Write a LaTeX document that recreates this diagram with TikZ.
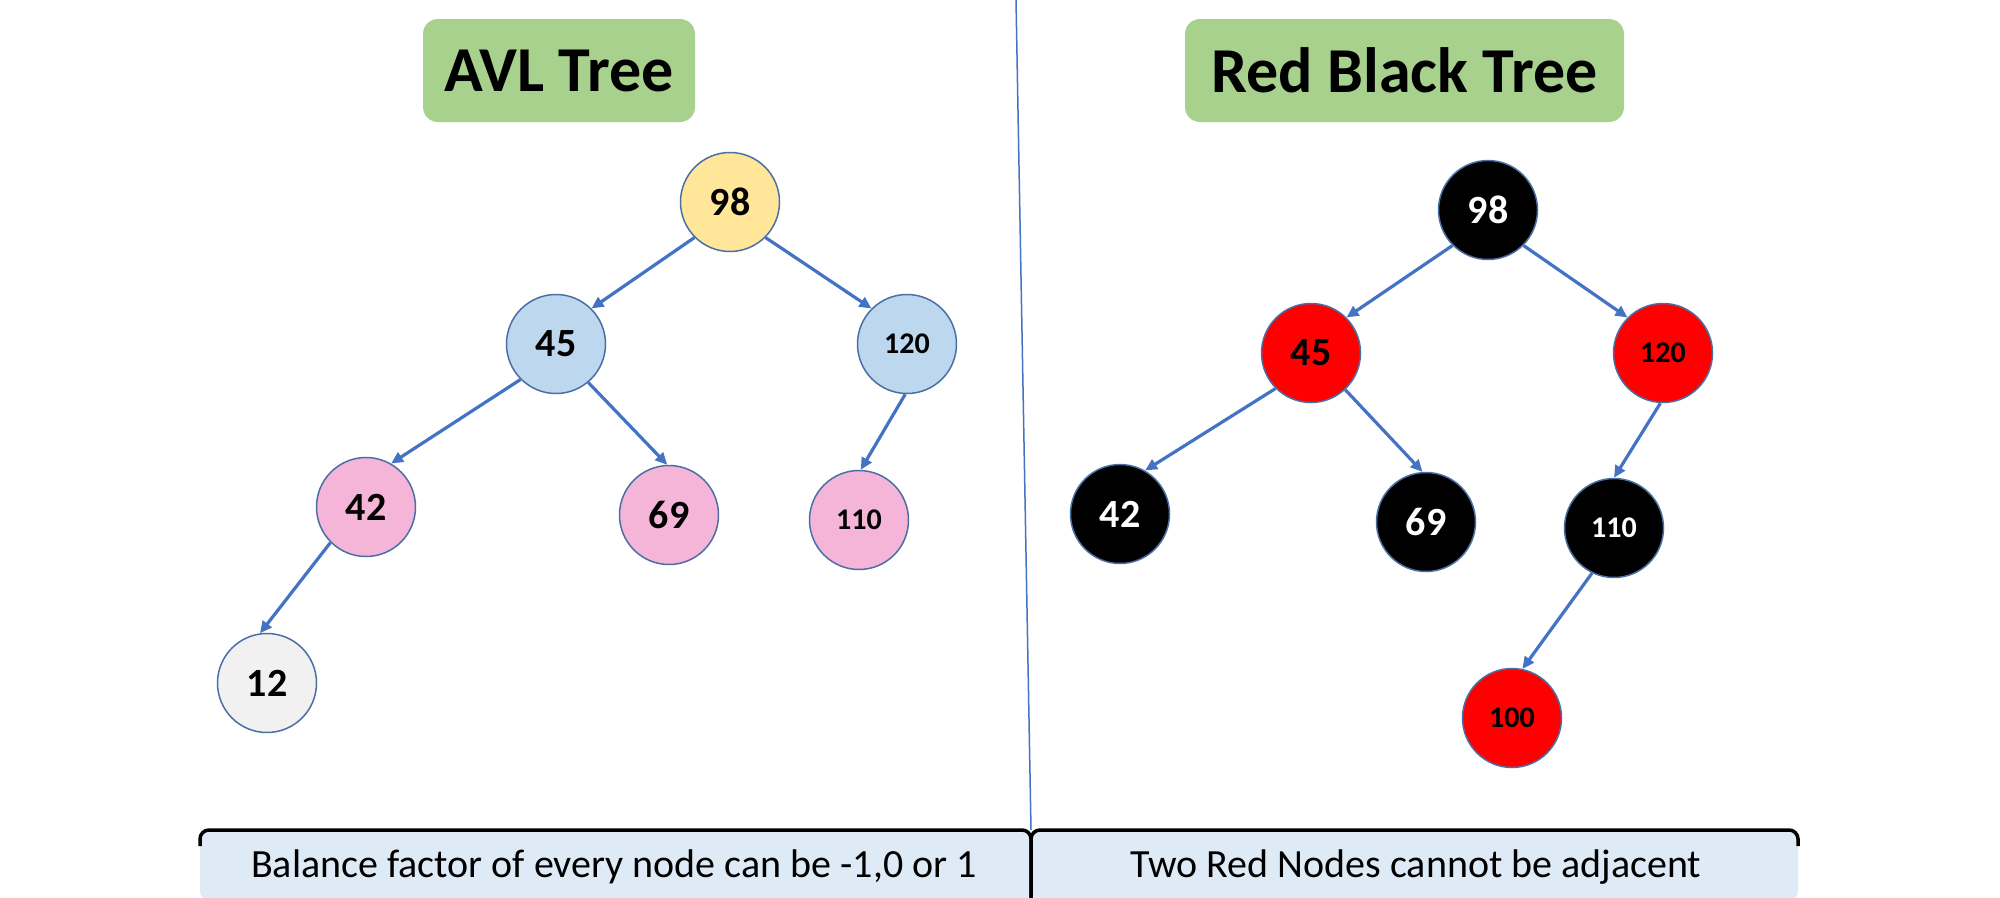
\documentclass[tikz,border=0pt]{standalone}
\usepackage{fontspec}
\setmainfont{Carlito}
\usetikzlibrary{arrows.meta}
\definecolor{titlegreen}{HTML}{A9D18E}
\definecolor{nodeyellow}{HTML}{FFE699}
\definecolor{nodeblue}{HTML}{BDD7EE}
\definecolor{nodepink}{HTML}{F5B5D8}
\definecolor{nodegray}{HTML}{F0F1F0}
\definecolor{nodered}{HTML}{FF0000}
\definecolor{edgeblue}{HTML}{4472C4}
\definecolor{nodeborder}{HTML}{4A6FA5}
\definecolor{boxfill}{HTML}{DEEBF7}
\begin{document}
\begin{tikzpicture}[x=1pt,y=-1pt,
  tnode/.style={circle, draw=nodeborder, line width=1.5pt, minimum size=99pt, inner sep=0pt,
    font=\fontsize{40}{41}\selectfont\bfseries},
  three/.style={font=\fontsize{30}{31}\selectfont\bfseries},
  edge/.style={draw=edgeblue, line width=3.2pt, -{Triangle[length=12pt,width=11pt]}},
  titlebox/.style={fill=titlegreen, rounded corners=15pt, inner sep=0pt,
    font=\fontsize{64}{65}\selectfont\bfseries},
  notetext/.style={anchor=base, inner sep=0pt, font=\fontsize{40}{41}\selectfont},
  boxline/.style={draw=black, line width=3.5pt, rounded corners=9pt}
]
\useasboundingbox (0,0) rectangle (2000,897);
\fill[white] (0,0) rectangle (2000,897);

% divider
\coordinate (divtop) at (1016,0);
\coordinate (divbot) at (1031,830);
\draw[edgeblue, line width=1.5pt] (divtop) -- (divbot);

% bottom boxes
\fill[boxfill, rounded corners=9pt] (200,830) rectangle (1031,900);
\fill[boxfill, rounded corners=9pt] (1031,830) rectangle (1798,900);
\draw[boxline] (200,846) -- (200,830) -- (1031,830) -- (1031,900);
\draw[boxline] (1031,900) -- (1031,830) -- (1798,830) -- (1798,846);
\node[notetext] (noteavl) at (614,877) {Balance factor of every node can be -1,0 or 1};
\node[notetext] (noterb) at (1416,877) {Two Red Nodes cannot be adjacent};

% titles
\node[titlebox, minimum width=272pt, minimum height=103pt] (tavl) at (559,70.5) {AVL Tree};
\node[titlebox, minimum width=439pt, minimum height=103pt] (trb) at (1404.5,70.5) {Red Black Tree};

% AVL tree
\node[tnode, fill=nodeyellow] (a98) at (730,202) {98};
\node[tnode, fill=nodeblue] (a45) at (556,344) {45};
\node[tnode, fill=nodeblue, three] (a120) at (907,344) {120};
\node[tnode, fill=nodepink] (a42) at (366,507) {42};
\node[tnode, fill=nodepink] (a69) at (669,515) {69};
\node[tnode, fill=nodepink, three] (a110) at (859,520) {110};
\node[tnode, fill=nodegray] (a12) at (267,683) {12};

\draw[edge] (a98.225) -- (a45.45);
\draw[edge] (a98.-45) -- (a120.135);
\draw[edge] (a45.225) -- (a42.60);
\draw[edge] (a45.-50) -- (a69.92);
\draw[edge] (a120.-92) -- (a110.88);
\draw[edge] (a42.225) -- (a12.98);

% Red black tree
\node[tnode, fill=black, text=white] (r98) at (1488,210) {98};
\node[tnode, fill=nodered] (r45) at (1311,353) {45};
\node[tnode, fill=nodered, three] (r120) at (1663,353) {120};
\node[tnode, fill=black, text=white] (r42) at (1120,514) {42};
\node[tnode, fill=black, text=white] (r69) at (1426,522) {69};
\node[tnode, fill=black, text=white, three] (r110) at (1614,528) {110};
\node[tnode, fill=nodered, three] (r100) at (1512,718) {100};

\draw[edge] (r98.225) -- (r45.45);
\draw[edge] (r98.-45) -- (r120.135);
\draw[edge] (r45.225) -- (r42.60);
\draw[edge] (r45.-47) -- (r69.94);
\draw[edge] (r120.-93) -- (r110.90);
\draw[edge] (r110.244) -- (r100.78);
\end{tikzpicture}
\end{document}
